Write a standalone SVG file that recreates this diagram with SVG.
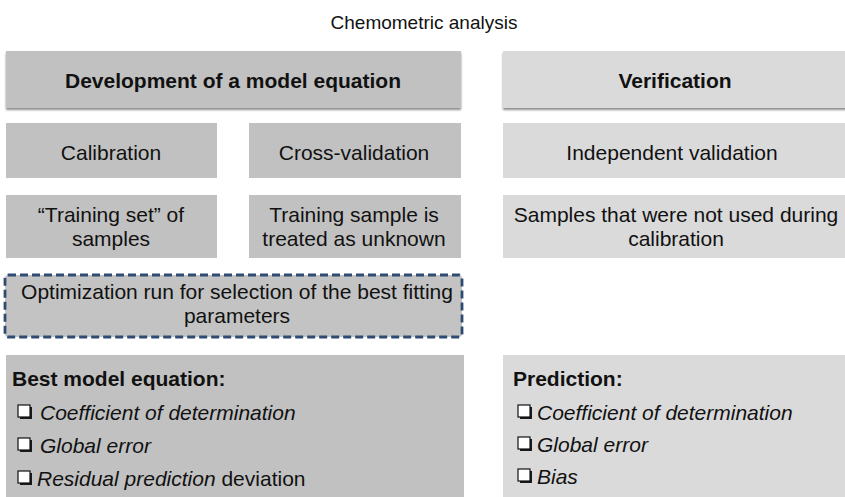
<svg xmlns="http://www.w3.org/2000/svg" width="845" height="497" viewBox="0 0 845 497">
<defs>
<filter id="sh" x="-5%" y="-20%" width="110%" height="150%">
<feGaussianBlur in="SourceAlpha" stdDeviation="1.2"/>
<feOffset dx="0" dy="2" result="b"/>
<feComponentTransfer><feFuncA type="linear" slope="0.45"/></feComponentTransfer>
<feMerge><feMergeNode/><feMergeNode in="SourceGraphic"/></feMerge>
</filter>
</defs>
<style>
text{font-family:"Liberation Sans",Arial,sans-serif;font-size:21px;fill:#111}
.c{text-anchor:middle}
.b{font-weight:bold}
.i{font-style:italic}
.dk{fill:#c1c1c1}
.lt{fill:#dadada}
.cbs{fill:#1a1a1a}
.cb{fill:#fff;stroke:#111;stroke-width:1.2}
</style>
<rect width="845" height="497" fill="#fff"/>
<text x="424" y="29" class="c" style="font-size:19px">Chemometric analysis</text>

<g id="dev-header"><rect x="6" y="51" width="455" height="57" class="dk" filter="url(#sh)"/><text x="233" y="88" class="c b">Development of a model equation</text></g>
<g id="verification"><rect x="503" y="51" width="345" height="57" class="lt" filter="url(#sh)"/><text x="675" y="88" class="c b">Verification</text></g>

<g id="calibration"><rect x="6" y="123" width="211" height="55" class="dk"/><text x="111" y="160" class="c">Calibration</text></g>
<g id="cross-validation"><rect x="249" y="123" width="212" height="55" class="dk"/><text x="354" y="160" class="c">Cross-validation</text></g>
<g id="independent-validation"><rect x="503" y="123" width="345" height="55" class="lt"/><text x="672" y="160" class="c">Independent validation</text></g>

<g id="training-set"><rect x="6" y="195" width="211" height="63" class="dk"/><text x="111" y="222" class="c">“Training set” of</text><text x="111" y="246" class="c">samples</text></g>
<g id="training-sample"><rect x="249" y="195" width="212" height="63" class="dk"/><text x="354" y="222" class="c">Training sample is</text><text x="354" y="246" class="c">treated as unknown</text></g>
<g id="samples-not-used"><rect x="503" y="195" width="345" height="63" class="lt"/><text x="676" y="222" class="c">Samples that were not used during</text><text x="676" y="246" class="c">calibration</text></g>

<g id="optimization"><rect x="5" y="275" width="457" height="62" rx="3" fill="#c3c3c3" stroke="#2f4b72" stroke-width="2.8" stroke-dasharray="8 4"/><text x="237" y="299" class="c">Optimization run for selection of the best fitting</text><text x="237" y="323" class="c">parameters</text></g>

<g id="best-model"><rect x="6" y="355" width="458" height="145" class="dk"/>
<text x="12" y="386" class="b">Best model equation:</text>
<rect x="20" y="407" width="12" height="12" class="cbs"/><rect x="18" y="405" width="12" height="12" class="cb"/>
<text x="40" y="420" class="i">Coefficient of determination</text>
<rect x="20" y="440" width="12" height="12" class="cbs"/><rect x="18" y="438" width="12" height="12" class="cb"/>
<text x="40" y="453" class="i">Global error</text>
<rect x="20" y="473" width="12" height="12" class="cbs"/><rect x="18" y="471" width="12" height="12" class="cb"/>
<text x="37" y="486"><tspan class="i">Residual prediction</tspan> deviation</text>
</g>

<g id="prediction"><rect x="503" y="355" width="345" height="145" class="lt"/>
<text x="513" y="386" class="b">Prediction:</text>
<rect x="520" y="407" width="12" height="12" class="cbs"/><rect x="518" y="405" width="12" height="12" class="cb"/>
<text x="537" y="420" class="i">Coefficient of determination</text>
<rect x="520" y="439" width="12" height="12" class="cbs"/><rect x="518" y="437" width="12" height="12" class="cb"/>
<text x="537" y="452" class="i">Global error</text>
<rect x="520" y="471" width="12" height="12" class="cbs"/><rect x="518" y="469" width="12" height="12" class="cb"/>
<text x="537" y="484" class="i">Bias</text>
</g>
<g id="connectors"/>
</svg>
